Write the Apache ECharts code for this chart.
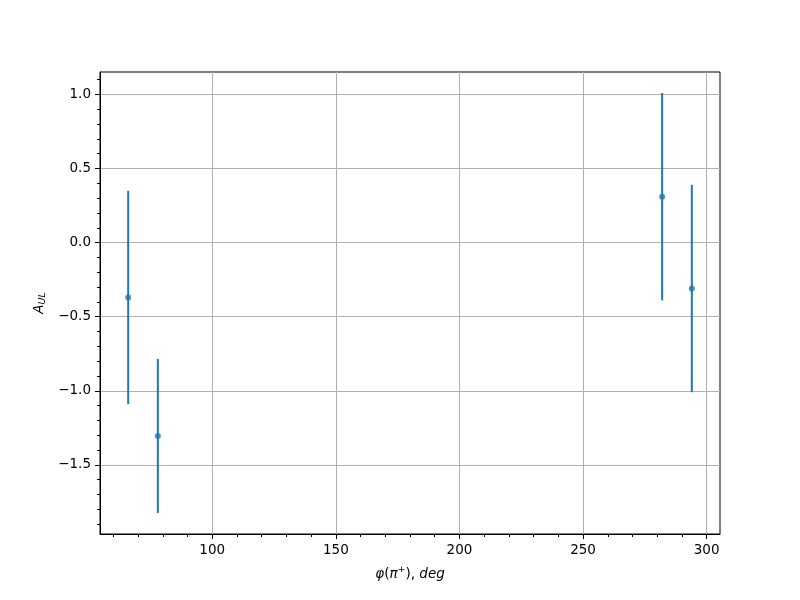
<!DOCTYPE html>
<html>
<head>
<meta charset="utf-8">
<script src="https://cdn.jsdelivr.net/npm/echarts@6/dist/echarts.min.js"></script>
<style>html,body{margin:0;padding:0;background:#fff}#c{width:800px;height:600px}</style>
</head>
<body>
<div id="c"></div>
<script>
// Data
const phi = [66, 78, 282, 294];
const aul = [-0.37, -1.305, 0.31, -0.31];
const aulErr = [0.72, 0.52, 0.70, 0.70];
const xTicks = [100, 150, 200, 250, 300];
const yTicks = [-1.5, -1.0, -0.5, 0.0, 0.5, 1.0];

// matplotlib-like 5% margins
const lows = aul.map((v, i) => v - aulErr[i]);
const highs = aul.map((v, i) => v + aulErr[i]);
const xLo = Math.min(...phi), xHi = Math.max(...phi);
const yLo = Math.min(...lows), yHi = Math.max(...highs);
const xPad = (xHi - xLo) * 0.05, yPad = (yHi - yLo) * 0.05;

const color = '#1f77b4';
const font = 'DejaVu Sans';

const chart = echarts.init(document.getElementById('c'));
chart.setOption({
  animation: false,
  backgroundColor: '#fff',
  grid: {left: 100, right: 80, top: 72, bottom: 66, show: true, borderColor: '#000', borderWidth: 1, backgroundColor: 'transparent'},
  xAxis: {
    type: 'value', min: xLo - xPad, max: xHi + xPad, splitNumber: 5,
    axisLine: {show: true, onZero: false, lineStyle: {color: '#000', width: 1}},
    axisTick: {show: true, inside: false, length: 5, lineStyle: {color: '#000'}, customValues: xTicks},
    minorTick: {show: true, splitNumber: 5, length: 3, lineStyle: {color: '#000'}},
    splitLine: {show: true, lineStyle: {color: '#b0b0b0', width: 1}},
    axisLabel: {color: '#000', fontFamily: font, fontSize: 13.5, margin: 9, customValues: xTicks},
    name: '', nameLocation: 'middle', nameGap: 31,
    nameTextStyle: {
      rich: {
        i: {fontFamily: font, fontStyle: 'italic', fontSize: 13.5, color: '#000'},
        n: {fontFamily: font, fontSize: 13.5, color: '#000'},
        sup: {fontFamily: font, fontSize: 9.5, color: '#000', verticalAlign: 'top', padding: [0, 0, 8, 0]}
      }
    }
  },
  yAxis: {
    type: 'value', min: yLo - yPad, max: yHi + yPad, splitNumber: 6,
    axisLine: {show: true, onZero: false, lineStyle: {color: '#000', width: 1}},
    axisTick: {show: true, inside: false, length: 5, lineStyle: {color: '#000'}, customValues: yTicks},
    minorTick: {show: true, splitNumber: 5, length: 3, lineStyle: {color: '#000'}},
    splitLine: {show: true, lineStyle: {color: '#b0b0b0', width: 1}},
    axisLabel: {color: '#000', fontFamily: font, fontSize: 13.5, margin: 9, customValues: yTicks,
      formatter: v => (v < 0 ? '\u2212' : '') + Math.abs(v).toFixed(1)},
    name: '{i|A}{sub|UL}', nameLocation: 'middle', nameGap: 50, nameRotate: 90,
    nameTextStyle: {
      rich: {
        i: {fontFamily: font, fontStyle: 'italic', fontSize: 13.5, color: '#000'},
        sub: {fontFamily: font, fontStyle: 'italic', fontSize: 9.5, color: '#000', padding: [6, 0, 0, 0]}
      }
    }
  },
  series: [
    {
      type: 'custom',
      data: phi.map((x, i) => [x, lows[i], highs[i]]),
      renderItem: function (params, api) {
        const p1 = api.coord([api.value(0), api.value(1)]);
        const p2 = api.coord([api.value(0), api.value(2)]);
        return {type: 'line', shape: {x1: p1[0], y1: p1[1], x2: p2[0], y2: p2[1]},
          style: {stroke: color, lineWidth: 2}};
      },
      z: 3
    },
    {
      type: 'scatter',
      data: phi.map((x, i) => [x, aul[i]]),
      symbol: 'circle', symbolSize: 6,
      itemStyle: {color: color},
      z: 4
    }
  ]
});
chart.setOption({xAxis: {name: '{i|φ}{n|(}{i|π}{sup|+}{n|), }{i|deg}'}});
</script>
</body>
</html>
